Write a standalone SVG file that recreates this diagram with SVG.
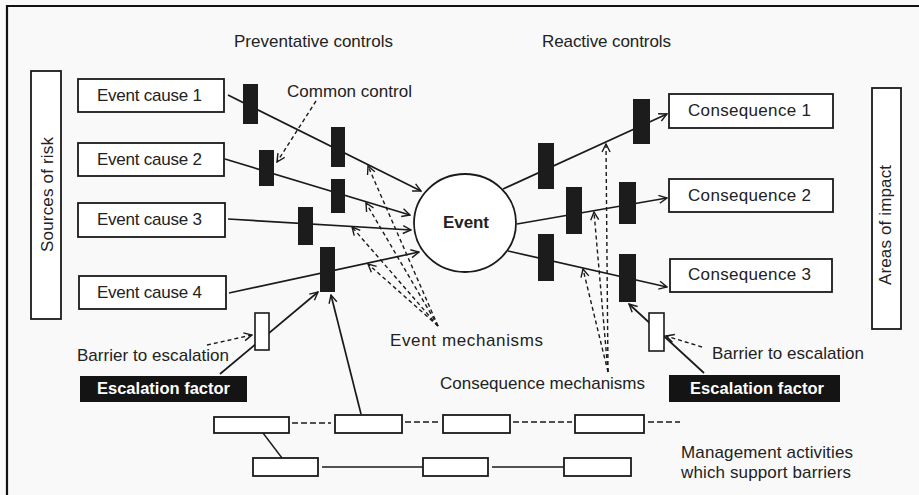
<svg xmlns="http://www.w3.org/2000/svg" width="919" height="495" viewBox="0 0 919 495">
  <defs>
    <marker id="arrow" viewBox="0 0 10 10" refX="9" refY="5" markerWidth="10" markerHeight="10" markerUnits="userSpaceOnUse" orient="auto">
      <path d="M1,1 L9,5 L1,9" fill="none" stroke="#1a1a1a" stroke-width="1.4"/>
    </marker>
    <style>
      text { font-family: "Liberation Sans", Arial, sans-serif; fill: #222; }
      .lbl { font-size: 17px; }
      .node { fill: #fff; stroke: #1a1a1a; stroke-width: 1.8; }
      .ctl { fill: #1c1c1c; stroke: none; }
      .barrier { fill: #fff; stroke: #1a1a1a; stroke-width: 1.6; }
      .mgmt { fill: #fff; stroke: #1a1a1a; stroke-width: 1.8; }
      .flow { stroke: #1a1a1a; stroke-width: 1.7; fill: none; }
      .mech { stroke: #1a1a1a; stroke-width: 1.4; fill: none; stroke-dasharray: 4 3; }
      .link { stroke: #1a1a1a; stroke-width: 1.4; fill: none; }
      .dlink { stroke: #1a1a1a; stroke-width: 1.6; fill: none; stroke-dasharray: 6 3; }
      .esc { fill: #141414; }
      .esc-t { font-size: 16.5px; font-weight: bold; fill: #fff; }
    </style>
  </defs>

  <!-- page -->
  <rect x="0" y="0" width="919" height="495" fill="#f9f9f9"/>
  <path d="M7,495 V6 H919" fill="none" stroke="#111" stroke-width="2.2"/>

  <!-- headings -->
  <text class="lbl" x="234" y="47" textLength="159">Preventative controls</text>
  <text class="lbl" x="542" y="47" textLength="129">Reactive controls</text>

  <!-- side bars -->
  <g id="sources-of-risk">
    <rect class="node" x="31" y="71" width="30" height="248"/>
    <text class="lbl" transform="translate(53,194.5) rotate(-90)" text-anchor="middle" textLength="115">Sources of risk</text>
  </g>
  <g id="areas-of-impact">
    <rect class="node" x="872" y="88" width="29" height="241"/>
    <text class="lbl" transform="translate(891,225) rotate(-90)" text-anchor="middle" textLength="120">Areas of impact</text>
  </g>

  <!-- connectors -->
  <g id="connectors">
    <!-- causes to event -->
    <line class="flow" x1="228" y1="95" x2="421" y2="191" marker-end="url(#arrow)"/>
    <line class="flow" x1="225" y1="159" x2="410" y2="215" marker-end="url(#arrow)"/>
    <line class="flow" x1="228" y1="219" x2="411" y2="230" marker-end="url(#arrow)"/>
    <line class="flow" x1="229" y1="293" x2="419" y2="252" marker-end="url(#arrow)"/>
    <!-- event to consequences -->
    <line class="flow" x1="503" y1="189" x2="667" y2="114" marker-end="url(#arrow)"/>
    <line class="flow" x1="517" y1="224" x2="667" y2="198" marker-end="url(#arrow)"/>
    <line class="flow" x1="508" y1="251" x2="667" y2="287" marker-end="url(#arrow)"/>

    <!-- common control pointer -->
    <line class="mech" x1="316" y1="101" x2="277" y2="162" marker-end="url(#arrow)"/>

    <!-- event mechanisms -->
    <line class="mech" x1="438" y1="326" x2="368" y2="166" marker-end="url(#arrow)"/>
    <line class="mech" x1="438" y1="326" x2="366" y2="203" marker-end="url(#arrow)"/>
    <line class="mech" x1="438" y1="326" x2="352" y2="227" marker-end="url(#arrow)"/>
    <line class="mech" x1="438" y1="326" x2="368" y2="264" marker-end="url(#arrow)"/>

    <!-- consequence mechanisms -->
    <line class="mech" x1="608" y1="372" x2="606" y2="144" marker-end="url(#arrow)"/>
    <line class="mech" x1="608" y1="372" x2="594" y2="212" marker-end="url(#arrow)"/>
    <line class="mech" x1="608" y1="372" x2="583" y2="269" marker-end="url(#arrow)"/>

    <!-- escalation paths -->
    <line class="flow" x1="220" y1="374" x2="318" y2="292" marker-end="url(#arrow)"/>
    <line class="mech" x1="207" y1="345" x2="252" y2="335" marker-end="url(#arrow)"/>
    <line class="flow" x1="704" y1="373" x2="629" y2="304" marker-end="url(#arrow)"/>
    <line class="mech" x1="702" y1="347" x2="666" y2="336" marker-end="url(#arrow)"/>

    <!-- management support -->
    <line class="flow" x1="361" y1="414" x2="331" y2="295" marker-end="url(#arrow)"/>
    <line class="dlink" x1="292" y1="423" x2="331" y2="423"/>
    <line class="dlink" x1="405" y1="422" x2="440" y2="422"/>
    <line class="dlink" x1="513" y1="422" x2="572" y2="422"/>
    <line class="dlink" x1="648" y1="422" x2="680" y2="422"/>
    <line class="link" x1="263" y1="433" x2="282" y2="458"/>
    <line class="link" x1="322" y1="467" x2="423" y2="467"/>
    <line class="link" x1="492" y1="467" x2="564" y2="467"/>
  </g>

  <!-- event causes -->
  <g id="cause-1">
    <rect class="node" x="78" y="79" width="146" height="33"/>
    <text class="lbl" x="97" y="101" textLength="105">Event cause 1</text>
  </g>
  <g id="cause-2">
    <rect class="node" x="78" y="143" width="146" height="33"/>
    <text class="lbl" x="97" y="165" textLength="105">Event cause 2</text>
  </g>
  <g id="cause-3">
    <rect class="node" x="78" y="203" width="147" height="34"/>
    <text class="lbl" x="97" y="225" textLength="105">Event cause 3</text>
  </g>
  <g id="cause-4">
    <rect class="node" x="79" y="276" width="147" height="33"/>
    <text class="lbl" x="97" y="298" textLength="105">Event cause 4</text>
  </g>

  <!-- preventative controls -->
  <g id="preventative-controls">
    <rect class="ctl" x="243" y="84" width="15" height="40"/>
    <rect class="ctl" x="331" y="127" width="14" height="40"/>
    <rect class="ctl" x="259" y="150" width="15" height="36"/>
    <rect class="ctl" x="331" y="179" width="14" height="34"/>
    <rect class="ctl" x="298" y="207" width="15" height="38"/>
    <rect class="ctl" x="320" y="247" width="15" height="45"/>
  </g>
  <text class="lbl" x="287" y="97" textLength="125">Common control</text>

  <!-- event -->
  <g id="event">
    <ellipse cx="465" cy="223" rx="51" ry="49" fill="#fff" stroke="#1a1a1a" stroke-width="1.8"/>
    <text x="443" y="228" font-size="17" font-weight="bold" textLength="46">Event</text>
  </g>

  <!-- reactive controls -->
  <g id="reactive-controls">
    <rect class="ctl" x="538" y="143" width="16" height="46"/>
    <rect class="ctl" x="633" y="99" width="17" height="45"/>
    <rect class="ctl" x="566" y="187" width="16" height="47"/>
    <rect class="ctl" x="619" y="182" width="17" height="42"/>
    <rect class="ctl" x="538" y="234" width="16" height="47"/>
    <rect class="ctl" x="619" y="254" width="17" height="48"/>
  </g>

  <!-- consequences -->
  <g id="consequence-1">
    <rect class="node" x="669" y="94" width="164" height="34"/>
    <text class="lbl" x="688" y="116" textLength="123">Consequence 1</text>
  </g>
  <g id="consequence-2">
    <rect class="node" x="669" y="179" width="164" height="33"/>
    <text class="lbl" x="688" y="201" textLength="123">Consequence 2</text>
  </g>
  <g id="consequence-3">
    <rect class="node" x="670" y="259" width="162" height="33"/>
    <text class="lbl" x="688" y="280" textLength="123">Consequence 3</text>
  </g>

  <!-- mechanism labels -->
  <text class="lbl" x="390" y="346" textLength="153">Event mechanisms</text>
  <text class="lbl" x="440" y="389" textLength="205">Consequence mechanisms</text>

  <!-- escalation, left -->
  <g id="barrier-left">
    <rect class="barrier" x="255" y="313" width="14" height="37"/>
  </g>
  <text class="lbl" x="77" y="361" textLength="152">Barrier to escalation</text>
  <g id="escalation-left">
    <rect class="esc" x="80" y="376" width="167" height="26"/>
    <text class="esc-t" x="97" y="394" textLength="133">Escalation factor</text>
  </g>

  <!-- escalation, right -->
  <g id="barrier-right">
    <rect class="barrier" x="649" y="313" width="15" height="38"/>
  </g>
  <text class="lbl" x="712" y="359" textLength="152">Barrier to escalation</text>
  <g id="escalation-right">
    <rect class="esc" x="669" y="375" width="171" height="27"/>
    <text class="esc-t" x="690" y="394" textLength="134">Escalation factor</text>
  </g>

  <!-- management activities -->
  <g id="mgmt-1"><rect class="mgmt" x="214" y="417" width="75" height="16"/></g>
  <g id="mgmt-2"><rect class="mgmt" x="335" y="415" width="67" height="18"/></g>
  <g id="mgmt-3"><rect class="mgmt" x="443" y="415" width="67" height="18"/></g>
  <g id="mgmt-4"><rect class="mgmt" x="575" y="415" width="69" height="18"/></g>
  <g id="mgmt-5"><rect class="mgmt" x="253" y="458" width="65" height="18"/></g>
  <g id="mgmt-6"><rect class="mgmt" x="423" y="458" width="65" height="18"/></g>
  <g id="mgmt-7"><rect class="mgmt" x="564" y="458" width="67" height="18"/></g>
  <text class="lbl" x="681" y="458" textLength="172">Management activities</text>
  <text class="lbl" x="681" y="478" textLength="170">which support barriers</text>
</svg>
